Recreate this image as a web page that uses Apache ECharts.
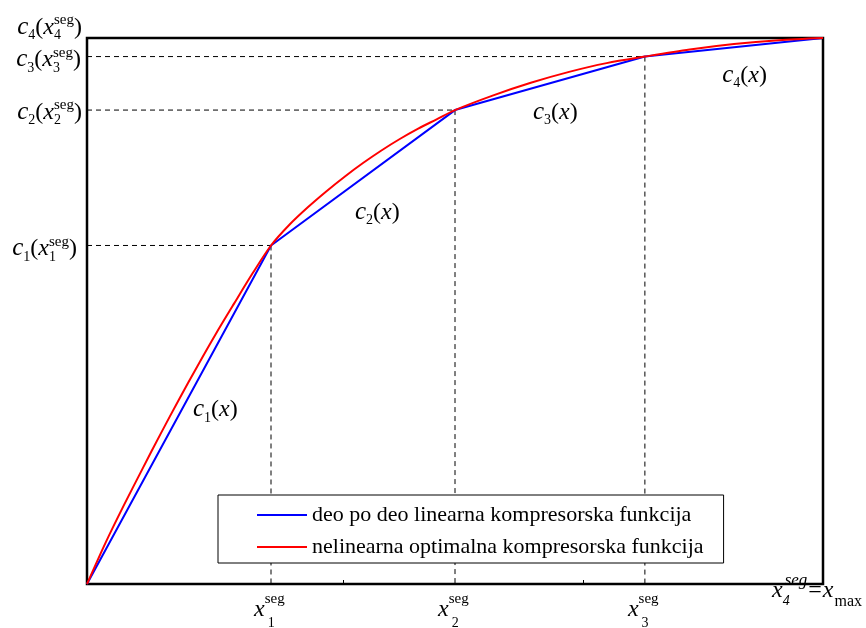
<!DOCTYPE html>
<html><head><meta charset="utf-8">
<script src="https://cdn.jsdelivr.net/npm/echarts@6/dist/echarts.min.js"></script>
<style>html,body{margin:0;padding:0;background:#fff}#c{width:866px;height:628px}</style>
</head><body><div id="c"></div>
<script>
// ---- data ----
const segX = [0, 0.25, 0.5, 0.758, 1];
const segY = [0, 0.62, 0.868, 0.966, 1];
const curveX = [0,0.025,0.05,0.075,0.1,0.125,0.15,0.175,0.2,0.225,0.25,0.275,0.3,0.325,0.35,0.375,0.4,0.425,0.45,0.475,0.5,0.552,0.603,0.655,0.706,0.758,0.819,0.879,0.94,1];
const curveY = [0,0.075,0.144,0.21,0.275,0.338,0.399,0.458,0.514,0.569,0.62,0.658,0.69,0.719,0.746,0.771,0.794,0.815,0.834,0.851,0.868,0.895,0.918,0.938,0.954,0.966,0.979,0.989,0.996,1];
const legendNames = ['deo po deo linearna kompresorska funkcija', 'nelinearna optimalna kompresorska funkcija'];
const segIdx = ['1', '2', '3', '4'];
const minorTicksX = [0.348, 0.674];

// ---- chart ----
const chart = echarts.init(document.getElementById('c'), null, {renderer: 'canvas'});
const SERIF = '"Liberation Serif","Times New Roman",serif';

const series = [];
for (let i = 1; i <= 3; i++) {
  const dash = {type: 'line', silent: true, symbol: 'none', z: 1,
    lineStyle: {color: '#000', width: 1, type: [5, 4]}};
  series.push(Object.assign({}, dash, {data: [[0, segY[i]], [segX[i], segY[i]]]}));
  series.push(Object.assign({}, dash, {data: [[segX[i], segY[i]], [segX[i], 0]]}));
}
series.push({name: legendNames[0], type: 'line', symbol: 'none', z: 3,
  lineStyle: {color: '#0000ff', width: 2}, itemStyle: {color: '#0000ff'},
  data: segX.map((x, k) => [x, segY[k]])});
series.push({name: legendNames[1], type: 'line', symbol: 'none', z: 4, smooth: 0.3,
  lineStyle: {color: '#ff0000', width: 2}, itemStyle: {color: '#ff0000'},
  data: curveX.map((x, k) => [x, curveY[k]])});

chart.setOption({
  animation: false,
  backgroundColor: '#fff',
  grid: {left: 87, right: 43, top: 38, bottom: 44, show: true, borderColor: '#000', borderWidth: 2.5, backgroundColor: 'transparent'},
  xAxis: {type: 'value', min: 0, max: 1, axisLine: {show: false}, splitLine: {show: false},
    axisLabel: {show: false},
    axisTick: {show: true, inside: true, length: 4, customValues: minorTicksX, lineStyle: {color: '#000', width: 1}}},
  yAxis: {type: 'value', min: 0, max: 1, axisLine: {show: false}, splitLine: {show: false},
    axisLabel: {show: false}, axisTick: {show: false}},
  legend: {data: legendNames, orient: 'vertical', left: 218, top: 495, icon: 'rect',
    padding: [9, 20, 5, 39], itemWidth: 50, itemHeight: 2, itemGap: 10,
    borderColor: '#000', borderWidth: 1, backgroundColor: '#fff',
    textStyle: {fontFamily: SERIF, fontSize: 22, color: '#000'}},
  series: series
});

// ---- math-like text labels ----
const mctx = document.createElement('canvas').getContext('2d');
function fnt(s, it) { return (it ? 'italic ' : '') + s + 'px ' + SERIF; }
function measure(t, f) { mctx.font = f; return mctx.measureText(t).width; }
// pieces: {t, s, i, dy, dx, same}
function layout(pieces) {
  let end = 0, lastStart = 0; const out = [];
  for (const p of pieces) {
    const f = fnt(p.s, p.i);
    const w = measure(p.t, f);
    const start = (p.same ? lastStart : end) + (p.dx || 0);
    out.push({p, f, x: start});
    lastStart = start - (p.dx || 0);
    end = Math.max(end, start + w);
  }
  return {items: out, width: end};
}
function mathText(pieces, anchorX, baseline, align) {
  const L = layout(pieces);
  let x0 = anchorX;
  if (align === 'right') x0 = anchorX - L.width;
  else if (align === 'center') x0 = anchorX - L.width / 2;
  return L.items.map(it => ({
    type: 'text', silent: true, z: 100,
    x: x0 + it.x, y: baseline + (it.p.dy || 0) - 0.32 * it.p.s,
    style: {text: it.p.t, font: it.f, fill: '#000', align: 'left', verticalAlign: 'middle',
      textAlign: 'left', textVerticalAlign: 'middle'}
  }));
}
function px(x, y) { return chart.convertToPixel({gridIndex: 0}, [x, y]); }

const BIG = 24, SM = 14, SUP = 15;
const els = [];
// y-axis labels c_i(x_i^seg)
const yShift = [11, 10, 11, -3];   // baseline offset from the dashed level
const yRight = [77, 82, 81, 82];
for (let i = 0; i < 4; i++) {
  const p = px(0, segY[i + 1]);
  els.push(...mathText([
    {t: 'c', s: 25, i: true}, {t: segIdx[i], s: SM, dy: 5},
    {t: '(', s: BIG}, {t: 'x', s: BIG, i: true},
    {t: 'seg', s: SUP, dy: -10}, {t: segIdx[i], s: SM, dy: 5, same: true},
    {t: ')', s: BIG}
  ], yRight[i], p[1] + yShift[i], 'right'));
}
// x-axis labels
for (let i = 0; i < 3; i++) {
  const p = px(segX[i + 1], 0);
  els.push(...mathText([
    {t: 'x', s: BIG, i: true},
    {t: 'seg', s: SUP, dy: -13}, {t: segIdx[i], s: SM, dy: 11, dx: 3, same: true}
  ], p[0] - 17, p[1] + 33, 'left'));
}
{
  const p = px(segX[4], 0);
  els.push(...mathText([
    {t: 'x', s: BIG, i: true},
    {t: 'seg', s: 17, i: true, dy: -12, dx: 2}, {t: segIdx[3], s: SM, i: true, dy: 8, same: true},
    {t: '=', s: BIG, dx: 1}, {t: 'x', s: BIG, i: true, dx: 1}, {t: 'max', s: 16, dy: 9, dx: 1}
  ], p[0] - 51, p[1] + 14, 'left'));
}
// segment annotations c_i(x)
const annot = [[0.144, 0.319], [0.364, 0.681], [0.606, 0.864], [0.863, 0.932]];
for (let i = 0; i < 4; i++) {
  const p = px(annot[i][0], annot[i][1]);
  els.push(...mathText([
    {t: 'c', s: 25, i: true}, {t: segIdx[i], s: SM, dy: 5},
    {t: '(', s: BIG}, {t: 'x', s: BIG, i: true}, {t: ')', s: BIG}
  ], p[0], p[1] + 8, 'left'));
}
chart.setOption({graphic: {elements: els}});
</script>
</body></html>
